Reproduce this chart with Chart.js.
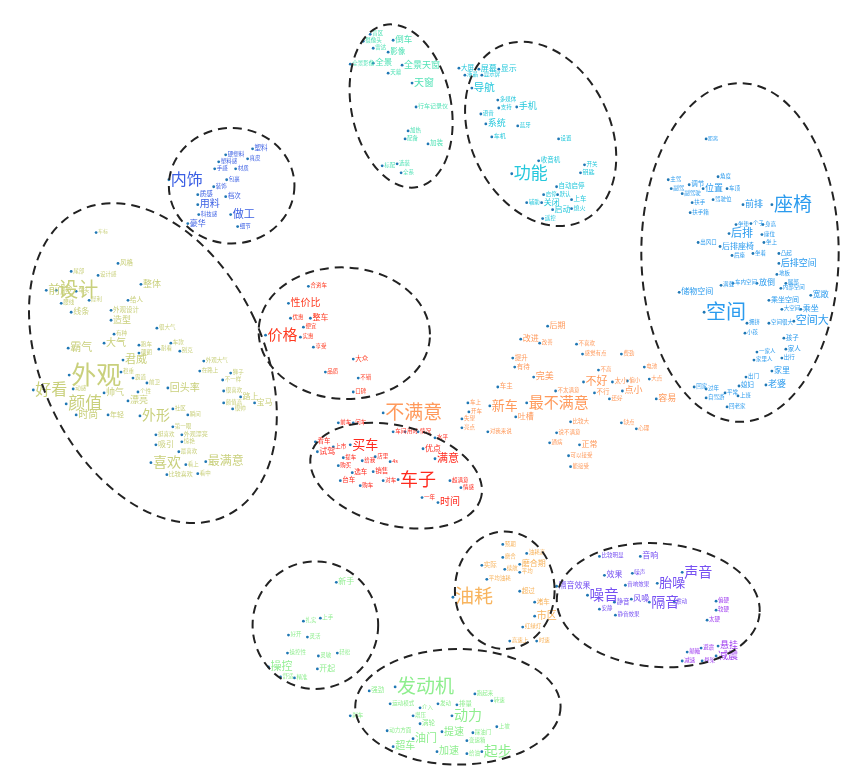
<!DOCTYPE html>
<html><head><meta charset="utf-8">
<script src="https://cdn.jsdelivr.net/npm/chart.js@4/dist/chart.umd.min.js"></script>
<style>html,body{margin:0;padding:0;background:#fff;overflow:hidden}#wrap{width:864px;height:772px}</style>
</head><body><div id="wrap"><canvas id="c" width="864" height="772"></canvas></div>
<script>
// ---- word clusters: words, embedding x, embedding y, weight (frequency -> font size) ----
const skyWords = ["盲区","摄像头","倒车","雷达","影像","全景影像","全景","全景天窗","天幕","天窗","行车记录仪","加热","配备","加装","标配","选装","全系"];
const skyX = [370,363,393,373,388,350,373,402,388,412,416,408,405,428,382,397,401];
const skyY = [33,40,39,47,51,63,62,64,72,82,106,130,138,143,165,163,172];
const skyW = [5.5,5.5,8.5,5.5,7.5,5.5,8.5,9,5.5,10,6,5.5,5.5,6.5,5.5,5.5,5.5];

const navWords = ["大屏","液晶","屏幕","显示屏","显示","导航","多媒体","支持","手机","语音","系统","蓝牙","车机","设置","收音机","开关","钥匙","功能","自动启停","启停","默认","上车","关闭","熄火","辅助","启动","遥控"];
const navX = [459,465,479,482,499,472,498,499,517,481,486,518,492,559,539,585,581,512,557,544,558,572,542,572,527,553,543];
const navY = [67,74,68,74,68,87,99,107,106,113,123,125,136,138,160,164,172,173,186,194,194,199,202,208,202,209,218];
const navW = [6.5,5.5,8,5.5,8,10.5,5.5,5.5,9,5.5,9,5.5,6,5.5,6.5,5.5,6,17,6.5,5.5,5.5,6.5,8,6,5.5,8,5.5];

const intWords = ["塑料","硬塑料","真皮","塑料感","手感","材质","内饰","包裹","装饰","质感","档次","用料","科技感","做工","豪华","细节"];
const intX = [252,225,247,218,214,235,168,226,213,197,225,197,198,230,187,237];
const intY = [148,154,158,161,168,168,179,179,186,194,196,204,214,214,223,226];
const intW = [6.5,5.5,5.5,5.5,5.5,5.5,16,5.5,5.5,6.5,6.5,10,5.5,11,8,5.5];

const seatWords = ["距离","角度","主驾","调节","位置","副驾","车顶","副驾驶","驾驶位","扶手","前排","座椅","扶手箱","坐垫","个子","身高","后排","座位","出风口","坐上","后排座椅","后座","坐着","凸起","后排空间","地板","腿部","放倒","车内空间","满载","内部空间","储物空间","宽敞","乘坐空间","空间","大空间","乘坐","空间大","拥挤","空间很大","小孩","孩子","家人","一家人","出行","家里人","家里","出门","媳妇","老婆","回家","过年","平常","上班","自驾游","回老家"];
const seatX = [707,719,669,690,704,672,728,683,714,693,744,773,691,737,752,764,730,763,699,765,721,733,754,780,780,778,787,758,734,722,782,680,812,770,705,783,802,795,748,770,746,785,787,758,783,755,773,747,740,767,695,707,726,739,707,728];
const seatY = [138,176,179,184,188,188,188,193,199,202,204,204,212,224,223,224,233,234,242,242,246,255,253,253,263,274,283,283,283,285,288,292,295,300,312,309,309,321,323,323,333,338,349,352,358,360,371,377,386,385,387,389,393,396,398,407];
const seatW = [5,5.5,5.5,6.5,9,5.5,5.5,5.5,5.5,5.5,9,19,5.5,5.5,5.5,5.5,11,5.5,5.5,5.5,8,5.5,5.5,5.5,9,5.5,5.5,8,5.5,5.5,5.5,8,8,7,20,5.5,8,11,5.5,5.5,5.5,6.5,6.5,5.5,5.5,5.5,8,5.5,6.5,9,5.5,5.5,5.5,5.5,5.5,5.5];

const lookWords = ["车标","风格","尾部","设计感","前脸","设计","车头","整体","给人","犀利","腰线","线条","外观设计","造型","有种","很大气","大气","霸气","跑车","车款","耐看","别克","硬朗","君威","外观大气","在路上","稳重","外观","好看","颜值","回头率","不一样","霸道","前卫","个性","动感","帅气","漂亮","外形","时尚","年轻","路上","宝马","颜值高","很帅","很喜欢","狮子","社区","瞬间","第一眼","挺喜欢","外观漂亮","惊艳","吸引","最喜欢","喜欢","最满意","看上","看中","比较喜欢"];
const lookX = [95,117,70,97,45,55,75,140,127,88,60,70,110,110,113,156,103,67,138,170,158,179,138,122,203,199,120,68,32,65,167,222,132,146,137,72,103,127,139,75,107,240,254,223,232,223,230,172,187,172,155,181,181,155,178,150,205,185,197,166];
const lookY = [232,263,271,275,290,290,291,284,300,300,303,312,310,320,334,328,343,348,345,343,349,351,353,360,361,371,372,375,390,404,388,380,378,383,392,389,393,401,416,415,415,397,403,403,409,391,373,409,415,427,435,435,442,445,452,463,462,465,474,475];
const lookW = [5,6.5,5.5,5.5,12,20,5.5,9,6.5,5.5,5.5,8,6.5,9,5.5,5.5,10,11,5.5,5.5,5.5,5.5,5.5,11,5.5,5.5,5.5,25,16,17,10,5.5,5.5,5.5,5.5,5.5,9,9,14,10,7,8,8,5.5,5.5,5.5,5.5,5.5,5.5,5.5,5.5,6,5.5,8,5.5,14,12,5.5,5.5,6];

const priceWords = ["合资车","性价比","优惠","整车","便宜","价格","实惠","享受","大众","品质","不错","口碑"];
const priceX = [308,288,290,310,303,265,300,313,353,325,358,353];
const priceY = [286,303,318,318,327,335,337,347,359,372,378,392];
const priceW = [5.5,10,5.5,8,5.5,15,5.5,5.5,6.5,5.5,5.5,5.5];

const carWords = ["前车","问车","车间","用时","情况","水平","看车","上市","买车","试驾","优点","满意","提车","给我","店里","4s","购买","选车","销售","台车","对车","购车","车子","超满意","情感","一年","时间"];
const carX = [338,353,393,405,418,435,315,333,350,317,423,435,343,362,375,390,338,352,373,340,383,360,398,450,461,422,438];
const carY = [423,423,432,432,432,438,442,447,445,452,449,459,458,461,457,462,466,473,472,481,481,486,480,481,488,498,503];
const carW = [5.5,5.5,5.5,5.5,5.5,5.5,6.5,5.5,13,8,8,11,5.5,5.5,5.5,5.5,5.5,6.5,6.5,6.5,5.5,5.5,18,5.5,5.5,5.5,10];

const badWords = ["不满意","车上","开车","失望","亮点","新车","最不满意","后期","改进","改善","不喜欢","提升","有待","感觉有点","费劲","完美","车主","不高","不好","电池","大点","太小","偏小","点小","不太满意","不行","还好","容易","吐槽","比较大","对我来说","缺点","心理","说不满意","通病","正常","可以接受","能接受"];
const badX = [383,468,469,462,462,490,527,548,521,540,577,513,515,583,622,534,498,599,584,645,650,613,628,623,556,595,610,657,516,571,488,622,637,557,550,580,569,571];
const badY = [413,403,412,419,428,406,403,326,339,343,344,358,367,354,354,377,387,370,382,367,379,382,381,391,391,393,399,399,417,422,432,423,429,433,443,445,456,467];
const badW = [19,5.5,5.5,5.5,5.5,13,15,8,8,5.5,5.5,6.5,6.5,5.5,5.5,9,6.5,5.5,11,5.5,5.5,6.5,5.5,9,5.5,6.5,5.5,9,8,5.5,5.5,5.5,5.5,5.5,5.5,8,5.5,5.5];

const fuelWords = ["预期","磨合","油耗高","实际","磨合期","续航","平均","平均油耗","油耗","超过","堵车","市区","红绿灯","高速上","时速"];
const fuelX = [503,503,527,482,520,505,520,487,453,520,535,535,523,510,537];
const fuelY = [545,558,554,566,565,570,573,580,598,592,603,617,628,642,642];
const fuelW = [5.5,5.5,5.5,6.5,8,5.5,5.5,5.5,19,6.5,6.5,10,5.5,5.5,5.5];

const noiseWords = ["比较明显","音响","声音","效果","噪声","音响效果","隔音效果","胎噪","噪音","风噪","静音","隔音","震动","安静","静音效果"];
const noiseX = [600,641,683,605,633,626,557,658,588,632,615,650,675,600,616];
const noiseY = [557,557,573,576,574,586,587,584,596,600,603,603,603,610,616];
const noiseW = [5.5,8,14,8,5.5,5.5,8,13,14.5,8,6.5,14,5.5,5.5,5.5];

const suspWords = ["偏硬","较硬","太硬","悬挂","颠簸","避震","减震","减速","悬架"];
const suspX = [717,717,708,719,688,702,717,683,703];
const suspY = [602,611,621,647,653,649,657,662,662];
const suspW = [5.5,5.5,5.5,9,5.5,5.5,10,5.5,5.5];

const ctrlWords = ["新手","上手","扎实","好开","灵活","操控性","灵敏","轻松","开起","操控","舒适","精准"];
const ctrlX = [336,320,303,288,307,287,318,337,317,268,280,294];
const ctrlY = [583,619,622,636,638,654,657,654,670,668,678,679];
const ctrlW = [8,5.5,5.5,5.5,5.5,5.5,5.5,5.5,8,11,5.5,5.5];

const engWords = ["强劲","发动机","跑起来","转速","运动模式","介入","发动","排量","动力","增压","涡轮","刹车","动力方面","上坡","提速","踩油门","油门","变速箱","超车","加速","起步","给油"];
const engX = [369,395,475,492,390,420,438,457,452,413,420,350,387,497,442,473,413,467,393,437,482,467];
const engY = [692,688,695,702,705,709,705,706,717,717,725,717,732,728,733,734,740,742,748,753,753,755];
const engW = [6.5,19,5.5,5.5,5.5,5.5,5.5,6.5,14,5.5,6.5,5.5,5.5,5.5,10,5.5,11,5.5,10,10,14,5.5];

// cluster boundary ellipses: centre x, centre y, radius x, radius y, rotation
const ringCX = [401,541,231,741,152,344,396,505,659,315,458];
const ringCY = [105,133,185,252,363,333,476,591,606,626,708];
const ringRX = [50,70,63,99,111,86,88,50,102,63,103];
const ringRY = [83,97,58,170,170,66,50,59,62,64,58];
const ringRot = [-0.2,-0.45,0,0,-0.45,0.05,0.25,0,0.08,0,0];

const groups = [
  [skyWords,skyX,skyY,skyW,'#52e2b6'],
  [navWords,navX,navY,navW,'#26c8dc'],
  [intWords,intX,intY,intW,'#3b5fe4'],
  [seatWords,seatX,seatY,seatW,'#2b9bee'],
  [lookWords,lookX,lookY,lookW,'#c9d07c'],
  [priceWords,priceX,priceY,priceW,'#ff3b22'],
  [carWords,carX,carY,carW,'#ff2a1e'],
  [badWords,badX,badY,badW,'#ff9a5c'],
  [fuelWords,fuelX,fuelY,fuelW,'#f8b45e'],
  [noiseWords,noiseX,noiseY,noiseW,'#7650f2'],
  [suspWords,suspX,suspY,suspW,'#a03ff0'],
  [ctrlWords,ctrlX,ctrlY,ctrlW,'#92ee92'],
  [engWords,engX,engY,engW,'#8eee8e']
];

const datasets = groups.map(g => ({
  data: g[1].map((x,i) => ({x:x, y:g[2][i]})),
  words: g[0], weights: g[3], textColor: g[4],
  pointRadius: 1.4, pointHoverRadius: 1.4,
  backgroundColor: '#1f77b4', borderColor: '#1f77b4', borderWidth: 0
}));

const FONT = '"Noto Sans CJK SC","Noto Sans",sans-serif';

const ringPlugin = {
  id: 'rings',
  afterDatasetsDraw(chart) {
    const {ctx, scales:{x, y}} = chart;
    ctx.save();
    ctx.strokeStyle = '#222';
    ctx.lineWidth = 2;
    ctx.setLineDash([9, 6]);
    for (let i = 0; i < ringCX.length; i++) {
      const cx = x.getPixelForValue(ringCX[i]);
      const cy = y.getPixelForValue(ringCY[i]);
      const rx = Math.abs(x.getPixelForValue(ringCX[i] + ringRX[i]) - cx);
      const ry = Math.abs(y.getPixelForValue(ringCY[i] + ringRY[i]) - cy);
      ctx.beginPath();
      ctx.ellipse(cx, cy, rx, ry, ringRot[i], 0, Math.PI * 2);
      ctx.stroke();
    }
    ctx.restore();
  }
};

const wordPlugin = {
  id: 'words',
  afterDatasetsDraw(chart) {
    const ctx = chart.ctx;
    ctx.save();
    ctx.textAlign = 'left';
    ctx.textBaseline = 'middle';
    chart.data.datasets.forEach((ds, di) => {
      const meta = chart.getDatasetMeta(di);
      ctx.fillStyle = ds.textColor;
      meta.data.forEach((pt, i) => {
        ctx.font = ds.weights[i] + 'px ' + FONT;
        ctx.fillText(ds.words[i], pt.x + 2, pt.y - 1);
      });
    });
    ctx.restore();
  }
};

new Chart(document.getElementById('c'), {
  type: 'scatter',
  data: { datasets },
  options: {
    responsive: false, animation: false, events: [],
    layout: { padding: 0 },
    plugins: { legend: { display: false }, tooltip: { enabled: false } },
    scales: {
      x: { type: 'linear', min: 0, max: 864, display: false },
      y: { type: 'linear', min: 0, max: 772, reverse: true, display: false }
    }
  },
  plugins: [wordPlugin, ringPlugin]
});
</script></body></html>
